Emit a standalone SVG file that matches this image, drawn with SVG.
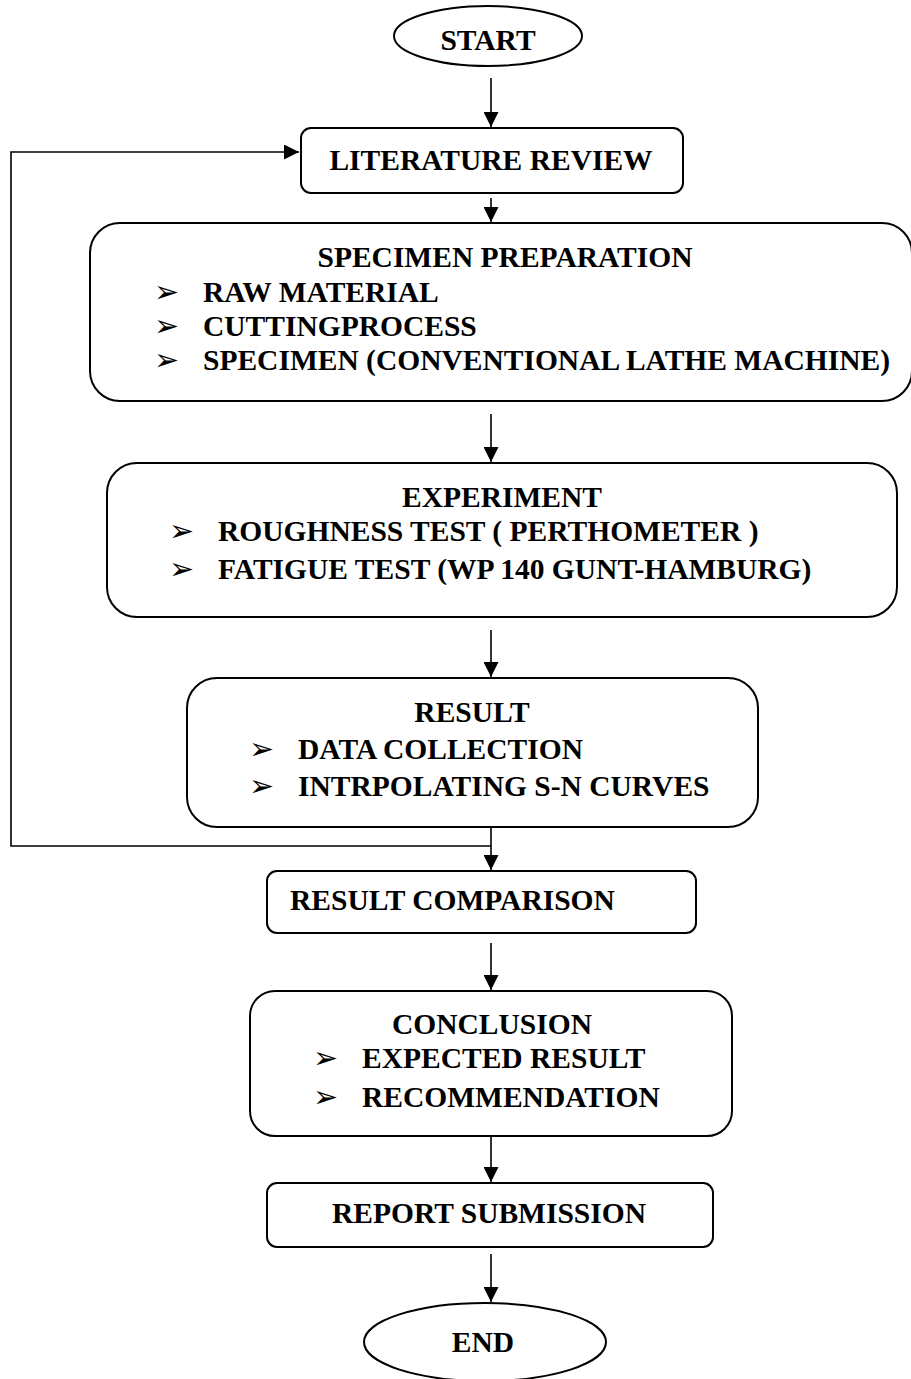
<svg xmlns="http://www.w3.org/2000/svg" width="911" height="1379" viewBox="0 0 911 1379">
<defs>
<style>
.box{fill:#fff;stroke:#000;stroke-width:2}
.t{font-family:"Liberation Serif","Times New Roman",serif;font-weight:bold;font-size:29.5px;fill:#000}
.c{text-anchor:middle}
.b{font-family:"DejaVu Sans",sans-serif;font-size:30px;fill:#000}
.ln{fill:none;stroke:#000;stroke-width:1.6}
</style>
<marker id="ah" viewBox="0 0 10 10" refX="10" refY="5" markerWidth="15" markerHeight="15" markerUnits="userSpaceOnUse" orient="auto">
<path d="M0,0 L10,5 L0,10 Z" fill="#000"/>
</marker>
</defs>
<rect width="911" height="1379" fill="#fff"/>
<g id="connectors">
<line class="ln" x1="491" y1="78" x2="491" y2="127" marker-end="url(#ah)"/>
<line class="ln" x1="491" y1="198" x2="491" y2="222" marker-end="url(#ah)"/>
<line class="ln" x1="491" y1="414" x2="491" y2="462" marker-end="url(#ah)"/>
<line class="ln" x1="491" y1="630" x2="491" y2="677" marker-end="url(#ah)"/>
<line class="ln" x1="491" y1="822" x2="491" y2="870" marker-end="url(#ah)"/>
<line class="ln" x1="491" y1="943" x2="491" y2="990" marker-end="url(#ah)"/>
<line class="ln" x1="491" y1="1135" x2="491" y2="1182" marker-end="url(#ah)"/>
<line class="ln" x1="491" y1="1254" x2="491" y2="1302" marker-end="url(#ah)"/>
<path class="ln" d="M491,846 H11 V152 H299" marker-end="url(#ah)"/>
</g>
<g id="start">
<ellipse class="box" cx="488" cy="36" rx="94" ry="30"/>
<text class="t c" x="488" y="50">START</text>
</g>
<g id="literature">
<rect class="box" x="301" y="128" width="382" height="65" rx="10"/>
<text class="t c" x="491" y="170">LITERATURE REVIEW</text>
</g>
<g id="specimen">
<rect class="box" x="90" y="223" width="822" height="178" rx="30"/>
<text class="t c" x="505" y="267">SPECIMEN PREPARATION</text>
<text class="b" x="154" y="302">➢</text>
<text class="t" x="203" y="302">RAW MATERIAL</text>
<text class="b" x="154" y="336">➢</text>
<text class="t" x="203" y="336">CUTTINGPROCESS</text>
<text class="b" x="154" y="370">➢</text>
<text class="t" x="203" y="370">SPECIMEN (CONVENTIONAL LATHE MACHINE)</text>
</g>
<g id="experiment">
<rect class="box" x="107" y="463" width="790" height="154" rx="30"/>
<text class="t c" x="502" y="507">EXPERIMENT</text>
<text class="b" x="169" y="541">➢</text>
<text class="t" x="218" y="541">ROUGHNESS TEST ( PERTHOMETER )</text>
<text class="b" x="169" y="579">➢</text>
<text class="t" x="218" y="579">FATIGUE TEST (WP 140 GUNT-HAMBURG)</text>
</g>
<g id="result">
<rect class="box" x="187" y="678" width="571" height="149" rx="30"/>
<text class="t c" x="472" y="722">RESULT</text>
<text class="b" x="249" y="759">➢</text>
<text class="t" x="298" y="759">DATA COLLECTION</text>
<text class="b" x="249" y="796">➢</text>
<text class="t" x="298" y="796">INTRPOLATING S-N CURVES</text>
</g>
<g id="comparison">
<rect class="box" x="267" y="871" width="429" height="62" rx="10"/>
<text class="t" x="290" y="910">RESULT COMPARISON</text>
</g>
<g id="conclusion">
<rect class="box" x="250" y="991" width="482" height="145" rx="25"/>
<text class="t c" x="492" y="1034">CONCLUSION</text>
<text class="b" x="313" y="1068">➢</text>
<text class="t" x="362" y="1068">EXPECTED RESULT</text>
<text class="b" x="313" y="1107">➢</text>
<text class="t" x="362" y="1107">RECOMMENDATION</text>
</g>
<g id="report">
<rect class="box" x="267" y="1183" width="446" height="64" rx="10"/>
<text class="t c" x="489" y="1223">REPORT SUBMISSION</text>
</g>
<g id="end">
<ellipse class="box" cx="485" cy="1342" rx="121" ry="39"/>
<text class="t c" x="483" y="1352">END</text>
</g>
</svg>
